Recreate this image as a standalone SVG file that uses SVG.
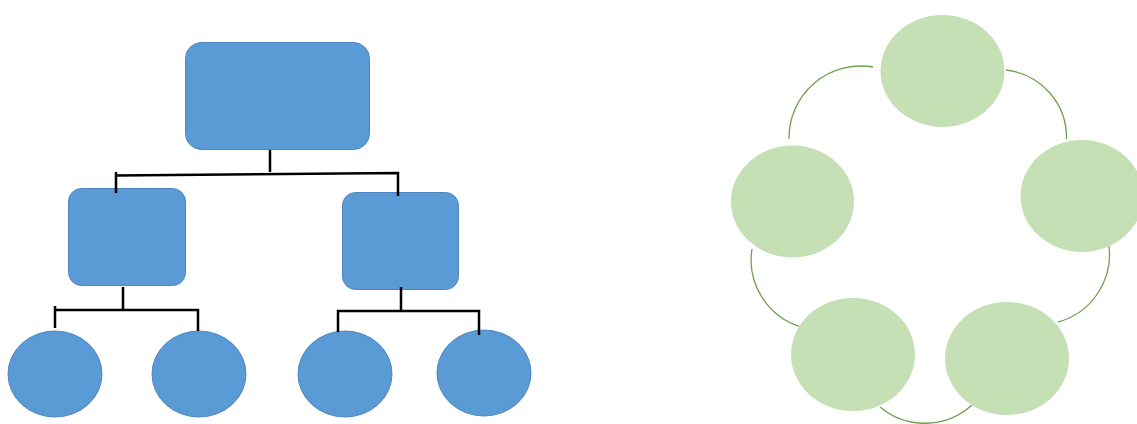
<svg xmlns="http://www.w3.org/2000/svg" width="1137" height="424" viewBox="0 0 1137 424">
  <style>
    .box { fill: #5B9BD5; stroke: #4F86BF; stroke-width: 1; }
    .leaf { fill: #5B9BD5; stroke: #4F86BF; stroke-width: 1; }
    .tree { fill: none; stroke: #000; stroke-width: 2.5; }
    .cyc { fill: #C5E0B4; }
    .arc { fill: none; stroke: #70A04E; stroke-width: 1.3; }
  </style>
  <rect width="1137" height="424" fill="#fff"/>

  <!-- hierarchy nodes -->
  <g id="root"><rect class="box" x="185.5" y="42.5" width="184" height="107" rx="16"/></g>
  <g id="mid-left"><rect class="box" x="68.5" y="188.5" width="117" height="97" rx="13"/></g>
  <g id="mid-right"><rect class="box" x="342.5" y="192.5" width="116" height="97" rx="13"/></g>
  <g id="leaf-1"><ellipse class="leaf" cx="55" cy="374" rx="47" ry="43"/></g>
  <g id="leaf-2"><ellipse class="leaf" cx="199" cy="374" rx="47" ry="43"/></g>
  <g id="leaf-3"><ellipse class="leaf" cx="345" cy="374" rx="47" ry="43"/></g>
  <g id="leaf-4"><ellipse class="leaf" cx="484" cy="373" rx="47" ry="43"/></g>

  <!-- hierarchy connectors, drawn over the node edges -->
  <g id="tree-connectors" class="tree">
    <path d="M270 150 V172"/>
    <path d="M116 193 V172 M116 175.5 L398 173 V196"/>
    <path d="M123 287 V310"/>
    <path d="M55 328 V306 M55 310 H198 V331"/>
    <path d="M401 287 V311"/>
    <path d="M338 332 V311 H479 V335"/>
  </g>

  <!-- cycle connectors -->
  <g id="cycle-connectors" class="arc">
    <path d="M873 67 A72 72 0 0 0 789 139"/>
    <path d="M1006 70 A68 68 0 0 1 1066.5 139"/>
    <path d="M1109 246 A70 70 0 0 1 1058 322"/>
    <path d="M880 407 A70 70 0 0 0 972 405"/>
    <path d="M752 249 A70 70 0 0 0 801 327"/>
  </g>

  <!-- cycle nodes -->
  <g id="cycle-top"><ellipse class="cyc" cx="942.5" cy="71" rx="62" ry="56"/></g>
  <g id="cycle-right"><ellipse class="cyc" cx="1082" cy="196" rx="61.5" ry="56"/></g>
  <g id="cycle-bottom-right"><ellipse class="cyc" cx="1007" cy="358.5" rx="62" ry="56.5"/></g>
  <g id="cycle-bottom-left"><ellipse class="cyc" cx="853" cy="354.5" rx="62" ry="56.5"/></g>
  <g id="cycle-left"><ellipse class="cyc" cx="792.5" cy="201.5" rx="61.5" ry="56"/></g>
</svg>
